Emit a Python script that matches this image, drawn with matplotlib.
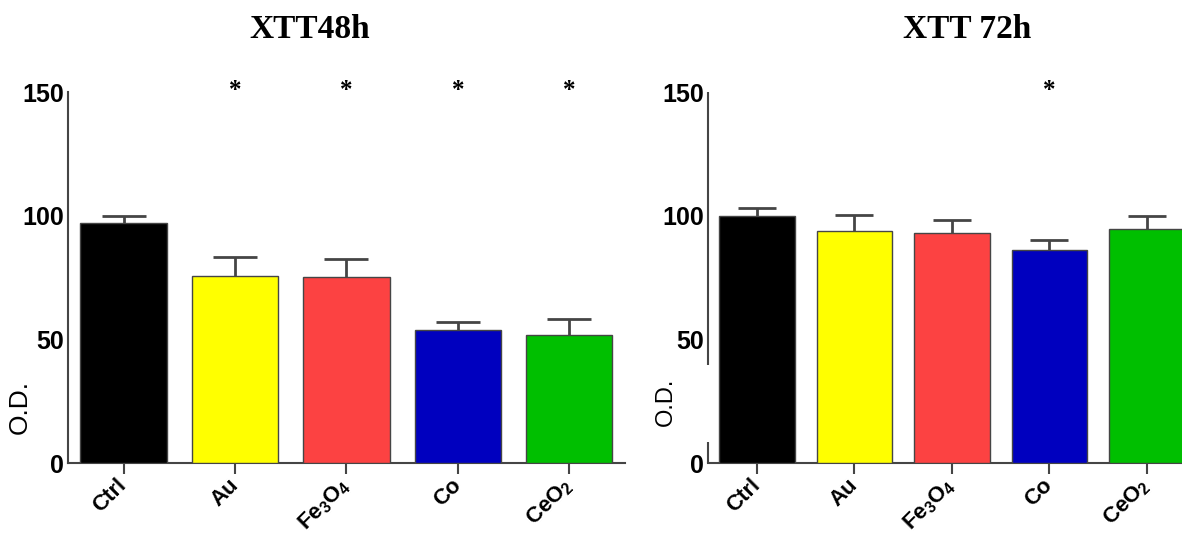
import numpy as np
import matplotlib
matplotlib.use("Agg")
from matplotlib import pyplot as plt

plt.rcParams['font.family'] = 'Liberation Sans'
plt.rcParams['font.weight'] = 'bold'
plt.rcParams['mathtext.fontset'] = 'custom'
plt.rcParams['mathtext.rm'] = 'Liberation Sans:bold'
plt.rcParams['mathtext.it'] = 'Liberation Sans:bold'
plt.rcParams['mathtext.bf'] = 'Liberation Sans:bold'

categories = ['Ctrl', 'Au', 'Fe$_3$O$_4$', 'Co', 'CeO$_2$']
colors = ['#000000', '#ffff00', '#fc4242', '#0000bf', '#00bf00']

od_48h = [97.0, 75.7, 75.2, 53.7, 51.9]
sem_48h = [2.7, 7.6, 7.3, 3.4, 6.2]
stars_48h = ['', '*', '*', '*', '*']

od_72h = [100.0, 94.0, 93.1, 86.0, 94.7]
sem_72h = [3.0, 6.3, 5.2, 4.3, 5.3]
stars_72h = ['', '', '', '*', '']

line_col = '#454545'


def drawPanel(ax, values, sem, stars, capsize, odsize):
    x = np.arange(len(categories))
    ax.bar(x, values, width=0.775, color=colors, edgecolor=line_col,
           linewidth=1.0, zorder=3)
    # symmetric bars drawn underneath, so only the upper half shows
    ax.errorbar(x, values, yerr=sem, fmt='none', ecolor=line_col,
                elinewidth=2, capsize=capsize, capthick=2, zorder=2)
    for xi, s in zip(x, stars):
        if s:
            ax.text(xi, 150.5, s, ha='center', va='center', fontsize=18,
                    family='Liberation Serif', fontweight='bold')
    ax.set_xlim(-0.5, 4.5)
    ax.set_ylim(0, 150)
    ax.set_yticks([0, 50, 100, 150])
    ax.set_xticks(x)
    ax.set_xticklabels(categories, rotation=45, ha='right', va='center',
                       rotation_mode='anchor', fontsize=16)
    ax.tick_params(axis='y', length=0, pad=3, labelsize=18)
    ax.tick_params(axis='x', length=8, width=1.5, color=line_col, pad=6)
    for side in ['top', 'right']:
        ax.spines[side].set_visible(False)
    for side in ['left', 'bottom']:
        ax.spines[side].set_color(line_col)
        ax.spines[side].set_linewidth(1.5)
    ax.set_ylabel('O.D.', fontsize=odsize, fontweight='normal')
    ax.patch.set_alpha(0)


fig = plt.figure(figsize=(11.82, 5.39), dpi=100)

ax1 = fig.add_axes([0.0575, 0.141, 0.4712, 0.6883])
drawPanel(ax1, od_48h, sem_48h, stars_48h, 16, 19)
ax1.yaxis.set_label_coords(-0.065, 0.151)

ax2 = fig.add_axes([0.599, 0.141, 0.4126, 0.6883])
drawPanel(ax2, od_72h, sem_72h, stars_72h, 14, 17)
ax2.yaxis.set_label_coords(-0.064, 0.164)
# y axis line is interrupted next to the label
ax2.spines['left'].set_visible(False)
for lo, hi in [(0, 8.5), (39.6, 150)]:
    ax2.plot([0, 0], [lo, hi], color=line_col, lw=1.5,
             transform=ax2.get_yaxis_transform(), clip_on=False,
             solid_capstyle='butt')

fig.text(310 / 1182, 1 - 30 / 539, 'XTT48h', ha='center', va='center',
         fontsize=24, family='Liberation Serif', fontweight='bold')
fig.text(967 / 1182, 1 - 30 / 539, 'XTT 72h', ha='center', va='center',
         fontsize=24, family='Liberation Serif', fontweight='bold')

fig.savefig('out.png', dpi=100)
